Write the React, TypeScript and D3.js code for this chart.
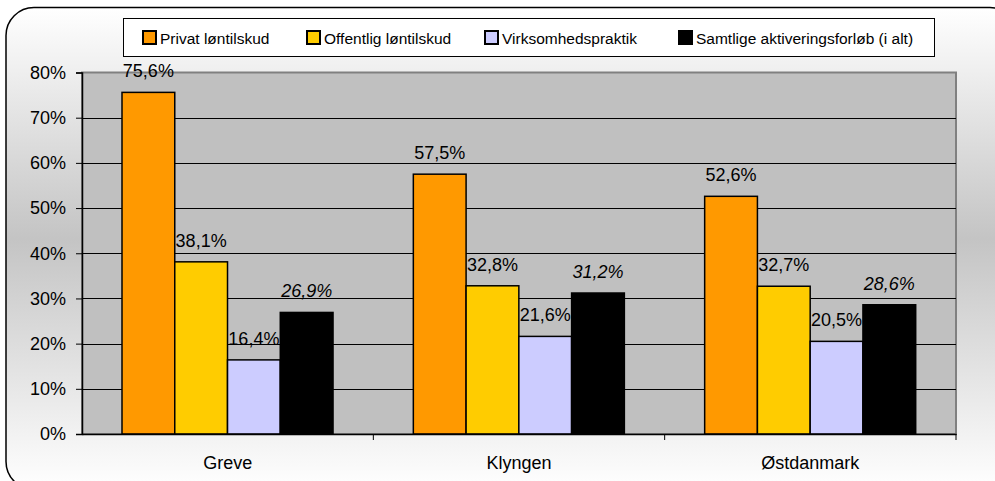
import * as d3 from "d3";
import { useEffect, useRef } from "react";

const categories = ["Greve", "Klyngen", "Østdanmark"];
const seriesNames = [
  "Privat løntilskud",
  "Offentlig løntilskud",
  "Virksomhedspraktik",
  "Samtlige aktiveringsforløb (i alt)",
];
const privat = [75.6, 57.5, 52.6];
const offentlig = [38.1, 32.8, 32.7];
const virksomhed = [16.4, 21.6, 20.5];
const samtlige = [26.9, 31.2, 28.6];
const yTicks = [0, 10, 20, 30, 40, 50, 60, 70, 80];

const colors = ["#FF9900", "#FFCC00", "#CCCCFF", "#000000"];
const legendX = [143, 307, 485, 679];

export default function App() {
  const ref = useRef<SVGSVGElement | null>(null);

  useEffect(() => {
    if (!ref.current) return;
    const svg = d3.select(ref.current);
    svg.selectAll("*").remove();

    const width = 995;
    const height = 481;
    const margin = { top: 72.5, right: 39, bottom: 47, left: 82 };
    const font = "'Liberation Sans', Arial, sans-serif";

    const values = [privat, offentlig, virksomhed, samtlige];

    // background gradient frame
    const defs = svg.append("defs");
    const grad = defs
      .append("linearGradient")
      .attr("id", "bg")
      .attr("x1", 0)
      .attr("y1", 0)
      .attr("x2", 0)
      .attr("y2", 1);
    grad.append("stop").attr("offset", "0%").attr("stop-color", "#ffffff");
    grad.append("stop").attr("offset", "48%").attr("stop-color", "#c4c4c4");
    grad.append("stop").attr("offset", "100%").attr("stop-color", "#ffffff");

    svg.append("rect").attr("width", width).attr("height", height).attr("fill", "#fff");
    svg
      .append("rect")
      .attr("x", 6)
      .attr("y", 7.5)
      .attr("width", 1012)
      .attr("height", 482)
      .attr("rx", 28)
      .attr("fill", "url(#bg)")
      .attr("stroke", "#000")
      .attr("stroke-width", 1.5);

    const x = d3
      .scaleBand()
      .domain(categories)
      .range([margin.left, width - margin.right]);

    const x1 = d3
      .scaleBand()
      .domain(seriesNames)
      .range([40, x.bandwidth() - 40.3]);

    const y = d3
      .scaleLinear()
      .domain([0, 80])
      .range([height - margin.bottom, margin.top]);

    // plot area
    svg
      .append("rect")
      .attr("x", margin.left)
      .attr("y", y(80))
      .attr("width", width - margin.right - margin.left)
      .attr("height", y(0) - y(80))
      .attr("fill", "#C0C0C0")
      .attr("stroke", "#808080")
      .attr("stroke-width", 2);

    // gridlines
    svg
      .append("g")
      .selectAll("line")
      .data(yTicks.filter((t) => t > 0 && t < 80))
      .join("line")
      .attr("x1", margin.left)
      .attr("x2", width - margin.right)
      .attr("y1", (d) => Math.round(y(d)) + 0.5)
      .attr("y2", (d) => Math.round(y(d)) + 0.5)
      .attr("stroke", "#000")
      .attr("stroke-width", 1);

    // y axis
    const yAxis = svg
      .append("g")
      .attr("transform", `translate(${margin.left},0)`)
      .call(
        d3
          .axisLeft(y)
          .tickValues(yTicks)
          .tickSize(6)
          .tickPadding(10)
          .tickFormat((d) => `${d}%`)
      );
    yAxis.select(".domain").attr("stroke", "#000").attr("stroke-width", 1.5);
    yAxis
      .selectAll("text")
      .attr("font-family", font)
      .attr("font-size", 18)
      .attr("fill", "#000");

    // bars
    const groups = svg
      .append("g")
      .selectAll("g")
      .data(categories)
      .join("g")
      .attr("transform", (c) => `translate(${x(c)},0)`);

    groups.each(function (c, ci) {
      const g = d3.select(this);
      seriesNames.forEach((s, si) => {
        const v = values[si][ci];
        g.append("rect")
          .attr("x", x1(s)!)
          .attr("y", y(v))
          .attr("width", x1.bandwidth())
          .attr("height", y(0) - y(v))
          .attr("fill", colors[si])
          .attr("stroke", "#000")
          .attr("stroke-width", 1.5);
        g.append("text")
          .attr("x", x1(s)! + x1.bandwidth() / 2)
          .attr("y", y(v) - 15)
          .attr("text-anchor", "middle")
          .attr("font-family", font)
          .attr("font-size", 18)
          .attr("font-style", si === 3 ? "italic" : "normal")
          .attr("fill", "#000")
          .text(`${v.toFixed(1).replace(".", ",")}%`);
      });
    });

    // x axis
    const xAxis = svg
      .append("g")
      .attr("transform", `translate(0,${y(0)})`)
      .call(d3.axisBottom(x).tickSize(0).tickPadding(22));
    xAxis.select(".domain").attr("stroke", "#000").attr("stroke-width", 1.5);
    xAxis
      .selectAll("text")
      .attr("font-family", font)
      .attr("font-size", 18)
      .attr("fill", "#000");
    xAxis
      .append("g")
      .selectAll("line")
      .data(categories.slice(1).concat(["end"]))
      .join("line")
      .attr("x1", (c) => (c === "end" ? width - margin.right : x(c)!))
      .attr("x2", (c) => (c === "end" ? width - margin.right : x(c)!))
      .attr("y1", 0)
      .attr("y2", 6)
      .attr("stroke", "#000");

    // legend
    const legend = svg.append("g");
    legend
      .append("rect")
      .attr("x", 123.5)
      .attr("y", 18.5)
      .attr("width", 811)
      .attr("height", 38)
      .attr("fill", "#fff")
      .attr("stroke", "#000")
      .attr("stroke-width", 1);
    seriesNames.forEach((s, i) => {
      legend
        .append("rect")
        .attr("x", legendX[i])
        .attr("y", 31)
        .attr("width", 13)
        .attr("height", 13)
        .attr("fill", colors[i])
        .attr("stroke", "#000")
        .attr("stroke-width", 2);
      legend
        .append("text")
        .attr("x", legendX[i] + 17)
        .attr("y", 44)
        .attr("font-family", font)
        .attr("font-size", 15.5)
        .attr("fill", "#000")
        .text(s);
    });
  }, []);

  return (
    <svg
      ref={ref}
      width={995}
      height={481}
      style={{ position: "absolute", left: 0, top: 0 }}
    />
  );
}
